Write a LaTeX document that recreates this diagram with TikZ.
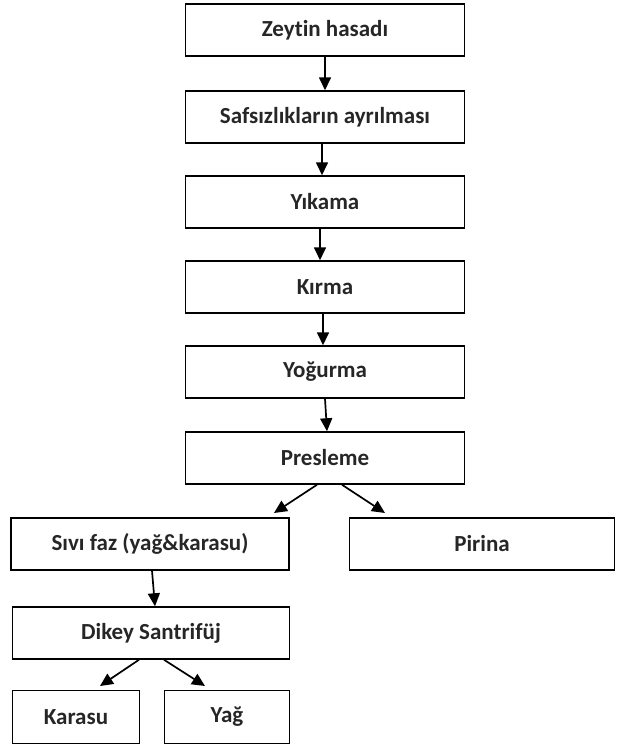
\documentclass[tikz,border=0pt]{standalone}
\usepackage{fontspec}
\setmainfont{Carlito}[Ligatures=NoCommon,RawFeature=-liga]
\usetikzlibrary{arrows.meta}
\begin{document}
\begin{tikzpicture}[x=1pt,y=-1pt,
  box/.style={draw=black,line width=1.5pt,minimum height=52pt,inner sep=0pt,font=\fontsize{23}{25}\selectfont\bfseries,text=black!85},
  arr/.style={-{Triangle[length=13pt,width=12pt]},line width=1.7pt}]
\useasboundingbox (0,0) rectangle (619,747);
\node[box,minimum width=279pt] (a) at (325,30) {Zeytin hasadı};
\node[box,minimum width=279pt] (b) at (325,117) {Safsızlıkların ayrılması};
\node[box,minimum width=279pt] (c) at (325,202) {Yıkama};
\node[box,minimum width=279pt] (d) at (325,287) {Kırma};
\node[box,minimum width=279pt] (e) at (325,372) {Yoğurma};
\node[box,minimum width=279pt] (f) at (325,458) {Presleme};
\node[box,minimum width=278pt] (g) at (150,544) {Sıvı faz (yağ\&karasu)};
\node[box,minimum width=265pt] (h) at (482,544) {Pirina};
\node[box,minimum width=277pt] (i) at (151,633) {Dikey Santrifüj};
\node[box,minimum width=127pt,minimum height=53pt] (j) at (76,717) {Karasu};
\node[box,minimum width=125pt,minimum height=53pt] (k) at (227,717) {Yağ};
\draw[arr] (a.south) -- (b.north);
\draw[arr] ([xshift=-3pt]b.south) -- ([xshift=-3pt]c.north);
\draw[arr] ([xshift=-5pt]c.south) -- ([xshift=-5pt]d.north);
\draw[arr] ([xshift=-2pt]d.south) -- ([xshift=-2pt]e.north);
\draw[arr] (e.south) -- ([xshift=2pt]f.north);
\draw[arr] ([xshift=-8pt]f.south) -- (274,513);
\draw[arr] ([xshift=17pt]f.south) -- (385,513);
\draw[arr] ([xshift=2pt]g.south) -- ([xshift=4pt]i.north);
\draw[arr] ([xshift=-12pt]i.south) -- (100,686);
\draw[arr] ([xshift=13pt]i.south) -- (205,686);
\end{tikzpicture}
\end{document}
